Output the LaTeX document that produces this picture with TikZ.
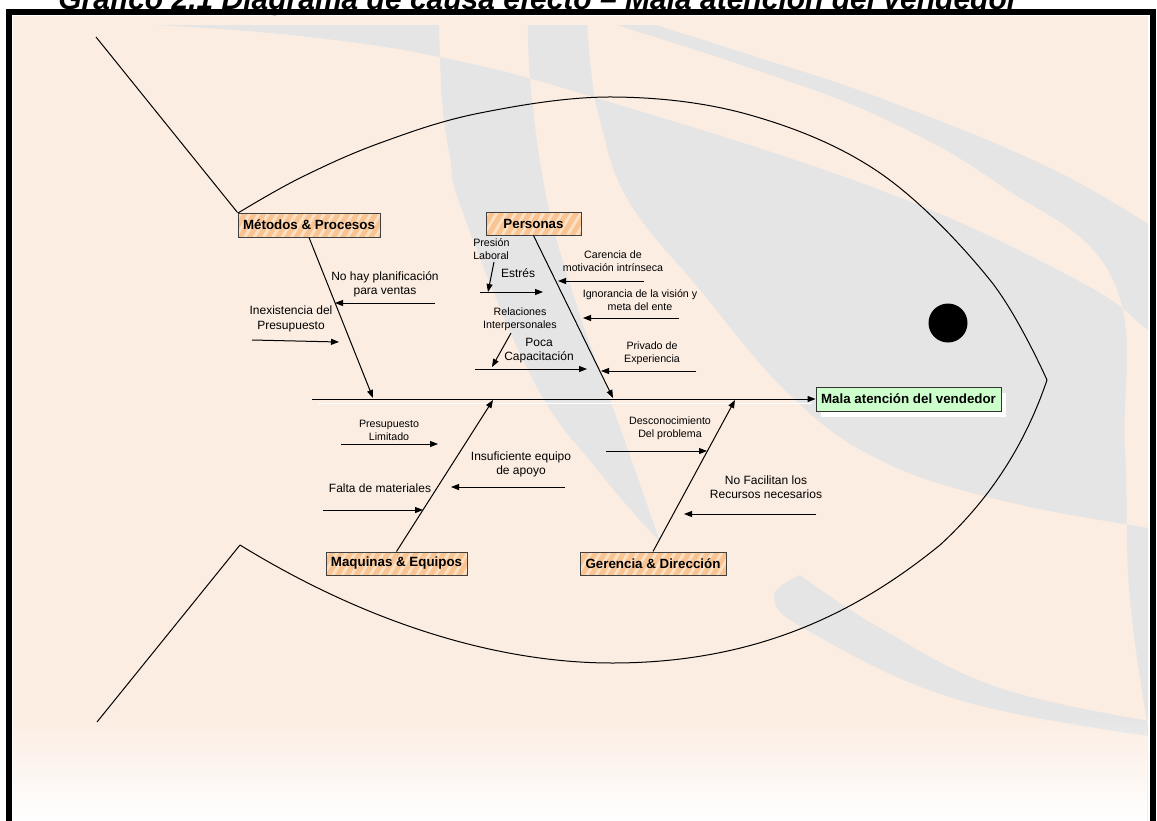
\documentclass[tikz,border=0pt]{standalone}
\usepackage{fontspec}
\setmainfont{Liberation Sans}
\usetikzlibrary{arrows.meta,fadings,shadows}

\definecolor{peach}{RGB}{252,237,226}
\definecolor{swoosh}{RGB}{229,229,229}
\definecolor{catfill}{RGB}{249,196,146}
\definecolor{catlight}{RGB}{252,224,196}
\definecolor{headfill}{RGB}{204,255,204}

\begin{document}
\begin{tikzpicture}[x=0.75pt,y=-0.75pt,
  conn/.style={line width=0.75pt,-{Triangle[length=6pt,width=4.5pt]}},
  plain/.style={line width=0.75pt},
  lbl/.style={font=\fontsize{9}{10.8}\selectfont,align=center,inner sep=0pt},
  slbl/.style={font=\fontsize{8}{9.75}\selectfont,align=center,inner sep=0pt},
  catbox/.style={draw=black!75,line width=0.75pt,fill=catfill,inner sep=0pt,
    font=\bfseries\fontsize{10}{12}\selectfont,
    path picture={
      \foreach \k in {0,...,24}{
        \fill[catlight]([xshift=\k*7pt-24pt]path picture bounding box.south west)
          -- ++(2.5pt,0) -- ++(12pt,20pt) -- ++(-2.5pt,0) -- cycle;
      }}},
  headbox/.style={draw=black!80,line width=0.75pt,fill=headfill,inner sep=0pt,
    font=\bfseries\fontsize{10}{12}\selectfont,
    drop shadow={shadow xshift=3.75pt,shadow yshift=-4.5pt,fill=white,opacity=1}}
]
\useasboundingbox (0,0) rectangle (1157,821);
\clip (0,0) rectangle (1157,821);

% page and panel background
\fill[white] (0,0) rectangle (1157,821);
\node[anchor=base west,inner sep=0pt,font=\bfseries\itshape\fontsize{22.5}{27}\selectfont]
  (title) at (58,9) {Gráfico 2.1 Diagrama de causa efecto – Mala atención del vendedor};
\fill[peach] (13,16) rectangle (1148,821);

% decorative swooshes of the slide template (overlaps cancel out)
\begin{scope}
\clip (13,25) rectangle (1148,815);
\fill[swoosh,even odd rule]
  % upper sweep
  plot[smooth,tension=0.7] coordinates
    {(157,25) (300,36) (439,57) (593,97) (880,190) (1077,280) (1148,330) (1170,346)}
    -- (1170,20) -- (157,20) -- cycle
  % large sweep through the head
  plot[smooth,tension=0.7] coordinates
    {(587,20) (591,70) (600,120) (628,200) (700,290) (790,395) (880,460) (1000,500) (1148,528) (1170,530)}
    -- (1170,20) -- cycle
  % crescent falling towards the lower bones
  plot[smooth,tension=0.7] coordinates
    {(439,20) (442,100) (450,157) (463,213) (533,380) (600,473) (660,542)}
    -- plot[smooth,tension=0.7] coordinates
    {(660,542) (635,470) (603,380) (575,300) (547,200) (531,90) (528,20)} -- cycle
  % thin band along the top right and the right edge
  plot[smooth,tension=0.7] coordinates
    {(600,20) (750,68) (880,117) (1000,185) (1113,280) (1125,450) (1130,600) (1152,750)}
    -- (1170,750) -- (1170,230) --
    plot[smooth,tension=0.7] coordinates
    {(1160,232) (1050,168) (880,98) (750,55) (640,20)} -- cycle
  % lower right crescent
  plot[smooth,tension=0.7] coordinates
    {(800,575) (774,598) (812,633) (959,700) (1157,737)}
    -- (1170,737) -- (1170,722) --
    plot[smooth,tension=0.7] coordinates
    {(1157,722) (1000,688) (880,628) (800,575)} -- cycle;
\end{scope}
\fill[white,path fading=north] (13,715) rectangle (1148,821);

% frame
\draw[line width=4.5pt] (9,830) -- (9,12) -- (1153,12) -- (1153,830);

% category boxes and effect box
\node[catbox,minimum width=106.5pt,minimum height=18pt] (met) at (309,225) {Métodos \& Procesos};
\node[catbox,minimum width=71.25pt,minimum height=17.25pt] (per) at (533.5,223.5) {Personas};
\node[catbox,minimum width=105.75pt,minimum height=17.25pt] (maq) at (396.5,563.5) {Maquinas \& Equipos};
\node[catbox,minimum width=109.5pt,minimum height=17.25pt] (ger) at (653,563.5) {Gerencia \& Dirección};
\node[headbox,minimum width=138.75pt,minimum height=18pt] (head) at (908.5,399) {Mala atención del vendedor};

% fish outline
\coordinate (tailtop) at (96,37);
\coordinate (tailbot) at (97,722);
\coordinate (lowstart) at (240,545);
\coordinate (nose) at (1047,380);
\draw[plain] (tailtop) -- (met.north west);
\draw[plain] (tailbot) -- (lowstart);
\draw[plain] plot[smooth,tension=0.6] coordinates
  {(238,213) (300,178) (380,143) (480,113) (613,97) (750,115) (880,173) (990,280) (1047,380)};
\draw[plain] (lowstart) .. controls (370,625) and (500,663) .. (612,663)
  .. controls (760,663) and (860,610) .. (940,545)
  .. controls (1000,490) and (1030,430) .. (nose);
\node[circle,fill=black,minimum size=29.25pt,inner sep=0pt] (eye) at (948,323) {};

% spine
\coordinate (spinestart) at (312,399);
\draw[white,line width=0.75pt] (318,403) -- (812,403);
\draw[conn] (spinestart) -- (head.west);

% main bones
\coordinate (metend) at (373,398);
\coordinate (perend) at (613,398);
\coordinate (maqend) at (493,400);
\coordinate (gerend) at (735,400);
\draw[conn] (met.south) -- (metend);
\draw[conn] (per.south) -- (perend);
\draw[conn] (maq.north) -- (maqend);
\draw[conn] (ger.north) -- (gerend);

% causes: methods and processes
\coordinate (m1s) at (435,303); \coordinate (m1e) at (335,303);
\coordinate (m2s) at (252,340); \coordinate (m2e) at (339,342);
\draw[conn] (m1s) -- (m1e);
\draw[conn] (m2s) -- (m2e);
\node[lbl] (m1) at (385,284.5) {No hay planificación\\para ventas};
\node[lbl] (m2) at (291,319) {Inexistencia del\\Presupuesto};

% causes: people
\coordinate (p0s) at (494,262); \coordinate (p0e) at (488,292);
\coordinate (p1s) at (480,292); \coordinate (p1e) at (543,292);
\coordinate (p2s) at (644,281); \coordinate (p2e) at (558,281);
\coordinate (p3s) at (679,318); \coordinate (p3e) at (583,318);
\coordinate (p4s) at (511,333); \coordinate (p4e) at (492,367);
\coordinate (p5s) at (475,369); \coordinate (p5e) at (587,369);
\coordinate (p6s) at (696,371); \coordinate (p6e) at (601,371);
\draw[conn] (p0s) -- (p0e);
\draw[conn] (p1s) -- (p1e);
\draw[conn] (p2s) -- (p2e);
\draw[conn] (p3s) -- (p3e);
\draw[conn] (p4s) -- (p4e);
\draw[conn] (p5s) -- (p5e);
\draw[conn] (p6s) -- (p6e);
\node[slbl,anchor=west,align=left] (p0) at (473,249.5) {Presión\\Laboral};
\node[lbl] (p1) at (518,273) {Estrés};
\node[slbl] (p2) at (613,261.5) {Carencia de\\motivación intrínseca};
\node[slbl] (p3) at (640,300) {Ignorancia de la visión y\\meta del ente};
\node[slbl] (p4) at (520,319) {Relaciones\\Interpersonales};
\node[lbl] (p5) at (539,350.5) {Poca\\Capacitación};
\node[slbl] (p6) at (652,353) {Privado de\\Experiencia};

% causes: machines and equipment
\coordinate (q1s) at (341,444); \coordinate (q1e) at (438,444);
\coordinate (q2s) at (323,510); \coordinate (q2e) at (423,510);
\coordinate (q3s) at (565,487); \coordinate (q3e) at (451,487);
\draw[conn] (q1s) -- (q1e);
\draw[conn] (q2s) -- (q2e);
\draw[conn] (q3s) -- (q3e);
\node[slbl] (q1) at (389,430.5) {Presupuesto\\Limitado};
\node[lbl] (q2) at (380,488) {Falta de materiales};
\node[lbl] (q3) at (521,464.5) {Insuficiente equipo\\de apoyo};

% causes: management
\coordinate (g1s) at (606,451); \coordinate (g1e) at (707,451);
\coordinate (g2s) at (816,514); \coordinate (g2e) at (684,514);
\draw[conn] (g1s) -- (g1e);
\draw[conn] (g2s) -- (g2e);
\node[slbl] (g1) at (670,428) {Desconocimiento\\Del problema};
\node[lbl] (g2) at (766,487) {No Facilitan los\\Recursos necesarios};
\end{tikzpicture}
\end{document}
